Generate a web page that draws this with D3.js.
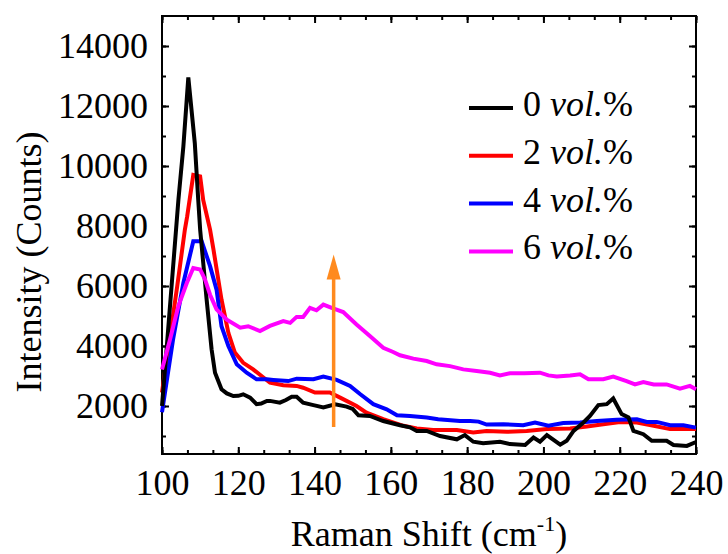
<!DOCTYPE html>
<html>
<head>
<meta charset="utf-8">
<script src="https://cdn.jsdelivr.net/npm/d3@7"></script>
<style>
    body { margin: 0; background: white; }
    text { font-family: "Liberation Serif", "Times New Roman", serif; }
</style>
</head>
<body>
<svg id="chart"></svg>
<script>
// [Raman shift, counts]
const vol0 = [[100,2000],[101.2,3890],[102.8,6460],[104.3,8870],[105.6,10650],[106.9,12950],[108.6,10760],[109.5,8870],[110,7880],[111.7,5550],[113,3890],[113.9,3110],[115.6,2560],[117,2420],[118.7,2330],[120,2340],[121.3,2390],[123.1,2280],[124.8,2060],[126,2080],[127.5,2170],[128.3,2170],[130.9,2110],[132.5,2200],[134,2310],[135.3,2310],[137,2110],[139.7,2030],[142.3,1950],[145.4,2060],[148.4,1980],[150,1900],[151.5,1690],[154.5,1670],[158,1500],[162.4,1360],[165,1290],[166.8,1170],[169.4,1170],[172.9,1000],[177.3,890],[179.4,1030],[181.6,810],[184.2,760],[188.6,810],[191.2,730],[195.2,700],[197.4,950],[199.1,810],[200.9,1030],[204.4,710],[206.1,840],[207.9,1170],[210.5,1450],[212.2,1670],[214.4,2030],[216.6,2060],[218.3,2250],[220.5,1730],[222.3,1620],[223.6,1170],[226.2,1060],[228.4,840],[232.3,840],[234.1,700],[237.6,670],[240,800]];
const vol2 = [[100,2450],[102,4230],[104,6000],[106,7880],[106.6,8320],[108.2,9700],[110,9650],[110.8,8870],[112.6,7880],[113.5,7210],[115.6,5550],[117.4,4440],[119.1,3780],[121.3,3440],[123.9,3220],[126.6,2950],[128.3,2780],[131.8,2690],[135.3,2670],[137,2610],[140.1,2450],[144,2450],[146.7,2280],[151,2000],[153.6,1780],[158,1560],[163.3,1340],[166.8,1250],[171.1,1200],[177.3,1200],[181.6,1120],[185.1,1170],[190.4,1140],[195.6,1170],[200.9,1230],[207,1250],[211.4,1320],[215.7,1390],[220.1,1470],[224.5,1450],[228.9,1340],[233.2,1230],[236.7,1230],[240,1230]];
const vol4 = [[100,1790],[102.9,4220],[105.6,6100],[108.2,7490],[110.4,7490],[112.6,6660],[114.3,5880],[115.6,4660],[117.4,4000],[119.6,3390],[122.2,3110],[124.8,2890],[127.5,2890],[129.2,2870],[133.1,2830],[135.3,2910],[139.7,2890],[142.3,2980],[145.8,2870],[149.3,2670],[152,2390],[155.4,2060],[158.9,1890],[161.6,1690],[165,1670],[169.4,1620],[172.4,1560],[178.1,1500],[180.8,1500],[183,1480],[185.1,1380],[189.5,1390],[194.7,1360],[197.8,1450],[201.3,1340],[205.2,1430],[209.6,1450],[214,1500],[219.2,1540],[224.5,1560],[227.1,1470],[229.7,1470],[233.2,1360],[236.7,1360],[240,1280]];
const vol6 = [[100,3220],[102.1,4220],[104.3,5330],[106.5,6100],[108.2,6600],[110,6550],[111.3,6210],[112.6,5710],[114.3,5220],[117,4880],[120.5,4610],[122.6,4660],[125.7,4500],[128.3,4670],[131.8,4830],[133.6,4770],[135.3,4970],[137,4970],[138.8,5270],[140.5,5190],[142.3,5380],[144.5,5270],[147.5,5130],[151,4720],[154.5,4330],[158,3940],[160.6,3800],[162.4,3690],[165.9,3580],[169.4,3500],[172,3390],[175.5,3330],[179,3220],[182.5,3165],[186,3110],[188.6,3020],[191.2,3090],[195,3090],[199.1,3110],[201.3,3020],[203.5,2980],[207,3020],[209.6,3060],[211.8,2890],[215.7,2890],[218.3,2980],[221.8,2830],[224,2720],[226.2,2800],[228.9,2720],[232.3,2720],[235.8,2580],[238.4,2670],[240,2560]];
const seriesNames = ["0", "2", "4", "6"];
const seriesColors = ["#000000", "#ff0000", "#0000ff", "#ff00ff"];
const seriesData = [vol0, vol2, vol4, vol6];
const xTicks = [100, 120, 140, 160, 180, 200, 220, 240];
const yTicks = [2000, 4000, 6000, 8000, 10000, 12000, 14000];
// orange arrow: shift, from counts, to counts
const arrowShift = 145;
const arrowFrom = 1300;
const arrowTo = 7050;

const width = 728;
const height = 554;
const margin = { top: 16, right: 32, bottom: 100, left: 162 };
const innerW = width - margin.left - margin.right;
const innerH = height - margin.top - margin.bottom;
const fontSize = 36;
const lineWidth = 4;

const svg = d3.select("#chart")
    .attr("width", width)
    .attr("height", height);
const plot = svg.append("g")
    .attr("transform", `translate(${margin.left}, ${margin.top})`);

const x = d3.scaleLinear().domain([100, 240]).range([0, innerW]);
const y = d3.scaleLinear().domain([400, 15000]).range([innerH, 0]);

// minor ticks: x every 20/3, y every 1000
const xMinor = d3.range(0, 22).map(i => 100 + i * 20 / 3).filter(v => v < 240.01);
const yMinor = d3.range(1000, 15000, 1000);

const styleAxis = (g) => {
    g.attr("font-family", null);
    g.select(".domain").remove();
    g.selectAll("line").attr("stroke", "black").attr("stroke-width", 2);
    g.selectAll("text")
        .attr("font-size", fontSize)
        .attr("fill", "black");
}
// major ticks with labels (inward)
plot.append("g")
    .attr("transform", `translate(0, ${innerH})`)
    .call(d3.axisBottom(x).tickValues(xTicks).tickSize(-7).tickPadding(15).tickFormat(d3.format("d")))
    .call(styleAxis);
plot.append("g")
    .call(d3.axisLeft(y).tickValues(yTicks).tickSize(-7).tickPadding(14).tickFormat(d3.format("d")))
    .call(styleAxis);
// mirrored ticks on top and right, no labels
plot.append("g")
    .call(d3.axisTop(x).tickValues(xTicks).tickSize(-7).tickFormat(""))
    .call(styleAxis);
plot.append("g")
    .attr("transform", `translate(${innerW}, 0)`)
    .call(d3.axisRight(y).tickValues(yTicks).tickSize(-7).tickFormat(""))
    .call(styleAxis);
// minor ticks
plot.append("g")
    .attr("transform", `translate(0, ${innerH})`)
    .call(d3.axisBottom(x).tickValues(xMinor).tickSize(-4).tickFormat(""))
    .call(styleAxis);
plot.append("g")
    .call(d3.axisTop(x).tickValues(xMinor).tickSize(-4).tickFormat(""))
    .call(styleAxis);
plot.append("g")
    .call(d3.axisLeft(y).tickValues(yMinor).tickSize(-4).tickFormat(""))
    .call(styleAxis);
plot.append("g")
    .attr("transform", `translate(${innerW}, 0)`)
    .call(d3.axisRight(y).tickValues(yMinor).tickSize(-4).tickFormat(""))
    .call(styleAxis);

// frame
plot.append("rect")
    .attr("width", innerW)
    .attr("height", innerH)
    .attr("fill", "none")
    .attr("stroke", "black")
    .attr("stroke-width", 2);

// spectra
const line = d3.line().x(d => x(d[0])).y(d => y(d[1]));
const drawOrder = [1, 2, 0, 3];
drawOrder.forEach(i => {
    plot.append("path")
        .datum(seriesData[i])
        .attr("d", line)
        .attr("fill", "none")
        .attr("stroke", seriesColors[i])
        .attr("stroke-width", lineWidth)
        .attr("stroke-linejoin", "miter");
});

// arrow
const arrowColor = "#ff8a1e";
const headLen = 25;
const headHalf = 7;
const ax = x(arrowShift);
const tipY = y(arrowTo);
plot.append("line")
    .attr("x1", ax).attr("x2", ax)
    .attr("y1", y(arrowFrom)).attr("y2", tipY + headLen - 2)
    .attr("stroke", arrowColor)
    .attr("stroke-width", 3.5);
plot.append("path")
    .attr("d", `M${ax},${tipY} L${ax + headHalf},${tipY + headLen} L${ax - headHalf},${tipY + headLen} Z`)
    .attr("fill", arrowColor);

// legend
const legend = svg.append("g").attr("transform", "translate(469, 108)");
const legendStep = 47.8;
seriesNames.forEach((name, i) => {
    const row = legend.append("g").attr("transform", `translate(0, ${i * legendStep})`);
    row.append("line")
        .attr("x1", 0).attr("x2", 44)
        .attr("stroke", seriesColors[i])
        .attr("stroke-width", 4);
    const t = row.append("text")
        .attr("x", 54)
        .attr("y", 8)
        .attr("font-size", fontSize)
        .attr("fill", "black");
    t.append("tspan").text(name + " ");
    t.append("tspan").attr("font-style", "italic").text("vol.");
    t.append("tspan").text("%");
});

// axis titles
const xTitle = svg.append("text")
    .attr("x", margin.left + innerW / 2)
    .attr("y", 546)
    .attr("text-anchor", "middle")
    .attr("font-size", fontSize)
    .attr("fill", "black");
xTitle.append("tspan").text("Raman Shift (cm");
xTitle.append("tspan").attr("font-size", 22).attr("dy", -15).text("-1");
xTitle.append("tspan").attr("dy", 15).text(")");

svg.append("text")
    .attr("transform", `translate(41, 262) rotate(-90)`)
    .attr("text-anchor", "middle")
    .attr("font-size", fontSize)
    .attr("fill", "black")
    .text("Intensity (Counts)");
</script>
</body>
</html>
